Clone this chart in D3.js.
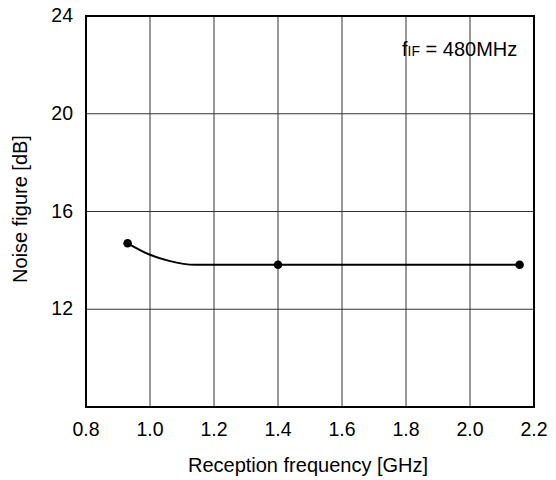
<!DOCTYPE html>
<html>
<head>
<meta charset="utf-8">
<script src="https://cdn.jsdelivr.net/npm/d3@7"></script>
<style>
  body { margin: 0; background: #fff; }
  text { font-family: "Liberation Sans", Arial, sans-serif; fill: #000; }
</style>
</head>
<body>
<svg id="chart" width="556" height="480"></svg>
<script>
// Noise figure vs reception frequency
const xTicks = [0.8, 1.0, 1.2, 1.4, 1.6, 1.8, 2.0, 2.2];
const yTicks = [12, 16, 20, 24];
const yGrid = [8, 12, 16, 20, 24];

// curve trace (GHz, dB)
const curveFreq = [0.93, 1.0, 1.06, 1.14, 1.4, 2.155];
const curveNF   = [14.7, 14.23, 13.98, 13.82, 13.82, 13.82];

// measured points
const pointFreq = [0.93, 1.4, 2.155];
const pointNF   = [14.7, 13.82, 13.82];

const svg = d3.select("#chart");
const plotL = 86, plotR = 534, plotT = 16, plotB = 407;
const fontSize = 19.5;
const titleSize = 20;

const x = d3.scaleLinear().domain([0.8, 2.2]).range([plotL, plotR]);
const y = d3.scaleLinear().domain([8, 24]).range([plotB, plotT]);

// grid
svg.append("g").selectAll("line").data(xTicks).join("line")
  .attr("x1", d => x(d)).attr("x2", d => x(d))
  .attr("y1", plotT).attr("y2", plotB)
  .attr("stroke", "#333").attr("stroke-width", 1);
svg.append("g").selectAll("line").data(yGrid).join("line")
  .attr("x1", plotL).attr("x2", plotR)
  .attr("y1", d => y(d)).attr("y2", d => y(d))
  .attr("stroke", "#333").attr("stroke-width", 1);

// frame
svg.append("rect")
  .attr("x", plotL).attr("y", plotT)
  .attr("width", plotR - plotL).attr("height", plotB - plotT)
  .attr("fill", "none").attr("stroke", "#000").attr("stroke-width", 2);

// tick labels
svg.append("g").selectAll("text").data(xTicks).join("text")
  .attr("x", d => x(d)).attr("y", 436)
  .attr("text-anchor", "middle").attr("font-size", fontSize)
  .text(d => d.toFixed(1));
svg.append("g").selectAll("text").data(yTicks).join("text")
  .attr("x", 73).attr("y", d => y(d) + 6)
  .attr("text-anchor", "end").attr("font-size", fontSize)
  .text(d => d);

// axis titles
svg.append("text")
  .attr("x", 308).attr("y", 472)
  .attr("text-anchor", "middle").attr("font-size", titleSize)
  .text("Reception frequency [GHz]");
svg.append("text")
  .attr("transform", "translate(27,209) rotate(-90)")
  .attr("text-anchor", "middle").attr("font-size", titleSize)
  .text("Noise figure [dB]");

// curve
const line = d3.line()
  .x((d, i) => x(curveFreq[i]))
  .y((d, i) => y(curveNF[i]))
  .curve(d3.curveMonotoneX);
svg.append("path")
  .datum(curveFreq)
  .attr("d", line)
  .attr("fill", "none").attr("stroke", "#000").attr("stroke-width", 2);

svg.append("g").selectAll("circle").data(pointFreq).join("circle")
  .attr("cx", d => x(d)).attr("cy", (d, i) => y(pointNF[i]))
  .attr("r", 4.3).attr("fill", "#000");

// annotation
const note = svg.append("text")
  .attr("x", 402).attr("y", 56).attr("font-size", titleSize);
note.append("tspan").text("f");
note.append("tspan").attr("font-size", 14).text("IF");
note.append("tspan").text(" = 480MHz");
</script>
</body>
</html>
